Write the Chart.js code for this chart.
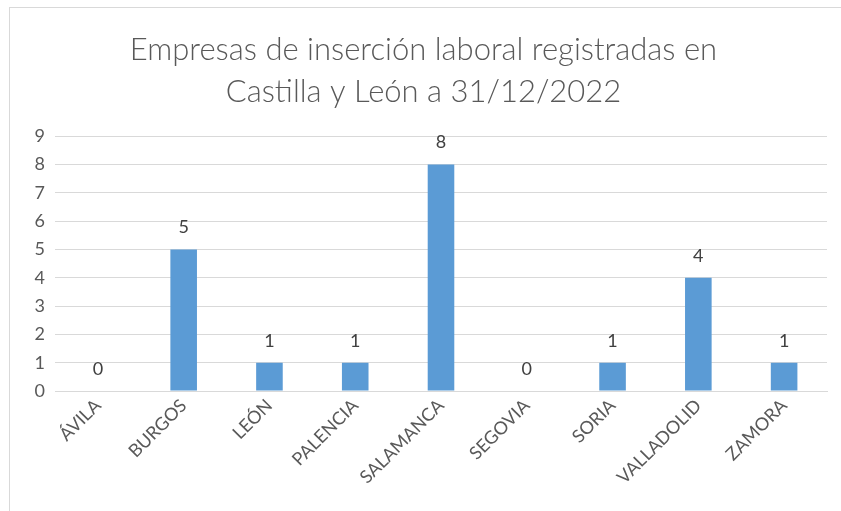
<!DOCTYPE html>
<html>
<head>
<meta charset="utf-8">
<script src="https://cdn.jsdelivr.net/npm/chart.js@4"></script>
<style>
  html, body { margin: 0; padding: 0; background: #fff; overflow: hidden; }
  #wrap { position: relative; width: 841px; height: 511px; }
  #frame { position: absolute; left: 9px; top: 7px; width: 900px; height: 600px; border: 1px solid #d9d9d9; }
  canvas { position: absolute; left: 0; top: 0; }
</style>
</head>
<body>
<div id="wrap">
  <div id="frame"></div>
  <canvas id="chart" width="841" height="511"></canvas>
</div>
<script>
const provincias = ["ÁVILA", "BURGOS", "LEÓN", "PALENCIA", "SALAMANCA", "SEGOVIA", "SORIA", "VALLADOLID", "ZAMORA"];
const empresas = [0, 5, 1, 1, 8, 0, 1, 4, 1];
const tituloLineas = ["Empresas de inserción laboral registradas en", "Castilla y León a 31/12/2022"];

// etiquetas encima de cada barra
const etiquetasBarras = {
  id: "etiquetasBarras",
  afterDatasetsDraw(chart) {
    const ctx = chart.ctx;
    const meta = chart.getDatasetMeta(0);
    ctx.save();
    ctx.font = "18px Lato";
    ctx.fillStyle = "#404040";
    ctx.textAlign = "center";
    ctx.textBaseline = "middle";
    meta.data.forEach((bar, i) => {
      ctx.fillText(String(empresas[i]), bar.x, bar.y - 22);
    });
    ctx.restore();
  }
};

new Chart(document.getElementById("chart"), {
  type: "bar",
  data: {
    labels: provincias,
    datasets: [{
      data: empresas,
      backgroundColor: "#5b9bd5",
      borderWidth: 0,
      barPercentage: 0.62,
      categoryPercentage: 0.5
    }]
  },
  options: {
    responsive: false,
    animation: false,
    layout: { padding: { left: 20, right: 14, top: 0, bottom: 0 } },
    plugins: {
      legend: { display: false },
      tooltip: { enabled: false },
      title: {
        display: true,
        text: tituloLineas,
        color: "#595959",
        font: { family: "Lato", size: 31, weight: "300", lineHeight: 1.36 },
        padding: { top: 29, bottom: 23 }
      }
    },
    scales: {
      x: {
        grid: { display: false, drawTicks: false },
        border: { color: "#d9d9d9" },
        ticks: {
          color: "#595959",
          font: { family: "Lato", size: 18 },
          minRotation: 45,
          maxRotation: 45,
          padding: 4
        },
        afterFit(scale) { scale.height = 120; }
      },
      y: {
        min: 0,
        max: 9,
        grid: { color: "#d9d9d9", drawTicks: false },
        border: { display: false },
        ticks: {
          stepSize: 1,
          color: "#595959",
          font: { family: "Lato", size: 18 },
          padding: 10
        },
        afterFit(scale) { scale.width = 35; }
      }
    }
  },
  plugins: [etiquetasBarras]
});
</script>
</body>
</html>
